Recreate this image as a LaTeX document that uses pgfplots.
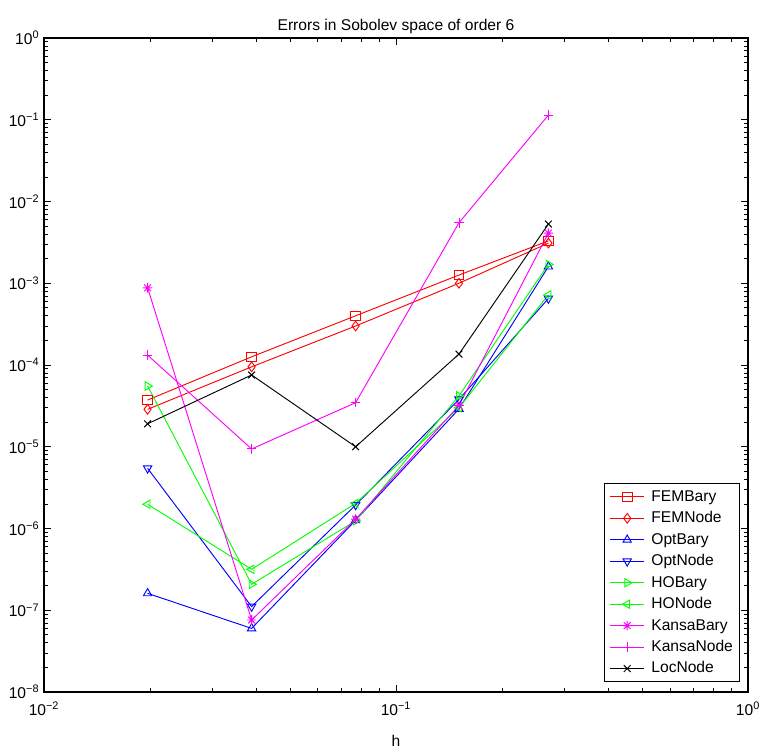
\documentclass[border=0pt]{standalone}
\usepackage{fontspec}
\setmainfont{Liberation Sans}
\usepackage{pgfplots}
\pgfplotsset{compat=1.18}
\definecolor{mred}{rgb}{1,0,0}
\definecolor{mblue}{rgb}{0,0,1}
\definecolor{mgreen}{rgb}{0,1,0}
\definecolor{mmag}{rgb}{1,0,1}
\pgfdeclareplotmark{ast8}{%
  \pgfpathmoveto{\pgfqpoint{-\pgfplotmarksize}{0pt}}\pgfpathlineto{\pgfqpoint{\pgfplotmarksize}{0pt}}%
  \pgfpathmoveto{\pgfqpoint{0pt}{-\pgfplotmarksize}}\pgfpathlineto{\pgfqpoint{0pt}{\pgfplotmarksize}}%
  \pgfpathmoveto{\pgfqpoint{-0.707\pgfplotmarksize}{-0.707\pgfplotmarksize}}\pgfpathlineto{\pgfqpoint{0.707\pgfplotmarksize}{0.707\pgfplotmarksize}}%
  \pgfpathmoveto{\pgfqpoint{-0.707\pgfplotmarksize}{0.707\pgfplotmarksize}}\pgfpathlineto{\pgfqpoint{0.707\pgfplotmarksize}{-0.707\pgfplotmarksize}}%
  \pgfusepathqstroke}
\newcommand{\tl}[1]{10\textsuperscript{#1}}
\newcommand{\fnt}{\fontsize{11.7}{14}\selectfont}
\begin{document}
\begin{tikzpicture}
\begin{axis}[
  xmode=log, ymode=log,
  scale only axis, width=528pt, height=490.5pt,
  xmin=0.01, xmax=1, ymin=1e-8, ymax=1,
  axis line style={line width=0.9pt},
  xtick={0.01,0.1,1},
  xticklabels={\tl{−2},\tl{−1},\tl{0}},
  ytick={1e-8,1e-7,1e-6,1e-5,1e-4,1e-3,1e-2,1e-1,1},
  yticklabels={\tl{−8},\tl{−7},\tl{−6},\tl{−5},\tl{−4},\tl{−3},\tl{−2},\tl{−1},\tl{0}},
  minor xtick={0.02,0.03,0.04,0.05,0.06,0.07,0.08,0.09,0.2,0.3,0.4,0.5,0.6,0.7,0.8,0.9},
  minor ytick={2e-8,3e-8,4e-8,5e-8,6e-8,7e-8,8e-8,9e-8,
               2e-7,3e-7,4e-7,5e-7,6e-7,7e-7,8e-7,9e-7,
               2e-6,3e-6,4e-6,5e-6,6e-6,7e-6,8e-6,9e-6,
               2e-5,3e-5,4e-5,5e-5,6e-5,7e-5,8e-5,9e-5,
               2e-4,3e-4,4e-4,5e-4,6e-4,7e-4,8e-4,9e-4,
               2e-3,3e-3,4e-3,5e-3,6e-3,7e-3,8e-3,9e-3,
               2e-2,3e-2,4e-2,5e-2,6e-2,7e-2,8e-2,9e-2,
               2e-1,3e-1,4e-1,5e-1,6e-1,7e-1,8e-1,9e-1},
  major tick length=5.25pt, minor tick length=3pt,
  tick style={line width=0.6pt, black},
  tick label style={font=\fnt},
  xticklabel style={yshift=-4pt},
  title={Errors in Sobolev space of order 6},
  title style={font=\fnt, yshift=-6pt},
  xlabel={h},
  xlabel style={font=\fnt, yshift=-8pt},
  legend cell align=left,
  legend style={at={(1,0)}, anchor=south east, xshift=-6pt, yshift=7.5pt,
    font=\fnt, draw=black, line width=0.6pt,
    nodes={inner sep=1pt, text height=9pt, text depth=2.5pt},
    row sep=2.6pt, inner xsep=4pt, inner ysep=3pt},
  legend image code/.code={\draw[mark repeat=2,mark phase=2] plot coordinates {(0cm,0cm)(0.45cm,0cm)(0.9cm,0cm)};},
  every axis plot/.append style={line width=0.7pt, mark size=3.6pt, mark options={solid}},
]
\addplot[mred, mark=square] coordinates {(0.0197,3.73e-5)(0.0389,1.26e-4)(0.0768,4.0e-4)(0.151,1.26e-3)(0.271,3.3e-3)};
\addlegendentry{\hspace{4pt}FEMBary}
\addplot[mred, mark=diamond] coordinates {(0.0197,2.87e-5)(0.0389,9.5e-5)(0.0768,3.0e-4)(0.151,1.0e-3)(0.271,3.1e-3)};
\addlegendentry{\hspace{4pt}FEMNode}
\addplot[mblue, mark=triangle] coordinates {(0.0197,1.61e-7)(0.0389,6.0e-8)(0.0768,1.26e-6)(0.151,2.9e-5)(0.271,1.6e-3)};
\addlegendentry{\hspace{4pt}OptBary}
\addplot[mblue, mark=triangle, mark options={rotate=180}] coordinates {(0.0197,5.45e-6)(0.0389,1.11e-7)(0.0768,1.94e-6)(0.151,3.8e-5)(0.271,6.5e-4)};
\addlegendentry{\hspace{4pt}OptNode}
\addplot[mgreen, mark=triangle, mark options={rotate=-90}] coordinates {(0.0197,5.53e-5)(0.0389,2.08e-7)(0.0768,1.24e-6)(0.151,4.2e-5)(0.271,1.7e-3)};
\addlegendentry{\hspace{4pt}HOBary}
\addplot[mgreen, mark=triangle, mark options={rotate=90}] coordinates {(0.0197,1.98e-6)(0.0389,3.17e-7)(0.0768,2.03e-6)(0.151,3.0e-5)(0.271,7.2e-4)};
\addlegendentry{\hspace{4pt}HONode}
\addplot[mmag, mark=ast8] coordinates {(0.0197,8.8e-4)(0.0389,7.6e-8)(0.0768,1.3e-6)(0.151,3.2e-5)(0.271,4.1e-3)};
\addlegendentry{\hspace{4pt}KansaBary}
\addplot[mmag, mark=+] coordinates {(0.0197,1.32e-4)(0.0389,9.4e-6)(0.0768,3.46e-5)(0.151,5.5e-3)(0.271,0.114)};
\addlegendentry{\hspace{4pt}KansaNode}
\addplot[black, mark=x] coordinates {(0.0197,1.91e-5)(0.0389,7.55e-5)(0.0768,1.0e-5)(0.151,1.36e-4)(0.271,5.3e-3)};
\addlegendentry{\hspace{4pt}LocNode}
\coordinate (bl) at (rel axis cs:0,0);
\coordinate (tr) at (rel axis cs:1,1);
\end{axis}
\pgfresetboundingbox
\useasboundingbox ([shift={(-33pt,-44.25pt)}]bl) rectangle ([shift={(10.5pt,28.5pt)}]tr);
\end{tikzpicture}
\end{document}
